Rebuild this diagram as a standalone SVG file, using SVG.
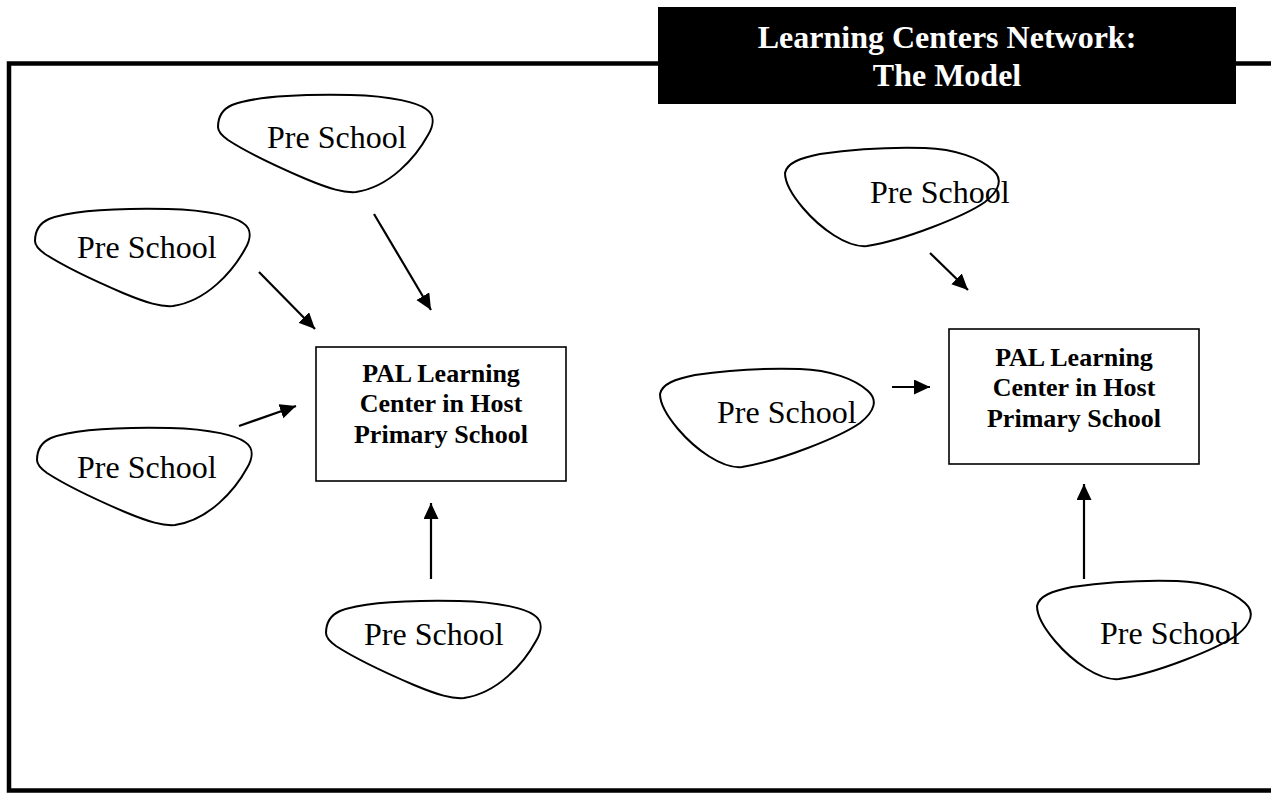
<svg xmlns="http://www.w3.org/2000/svg" width="1271" height="793" viewBox="0 0 1271 793">
<style>
  .frame { fill: none; stroke: #000; stroke-width: 4.5; }
  .blob { fill: none; stroke: #000; stroke-width: 2; }
  .box { fill: #fff; stroke: #000; stroke-width: 1.6; }
  .ps { font-family: "Liberation Serif", "Times New Roman", serif; font-size: 32px; fill: #000; }
  .bt { font-family: "Liberation Serif", "Times New Roman", serif; font-size: 26px; font-weight: bold; fill: #000; text-anchor: middle; }
  .tt { font-family: "Liberation Serif", "Times New Roman", serif; font-size: 32px; font-weight: bold; fill: #fff; text-anchor: middle; }
  .arr { stroke: #000; stroke-width: 2.2; fill: none; marker-end: url(#ah); }
</style>
<defs>
  <marker id="ah" markerUnits="userSpaceOnUse" markerWidth="18" markerHeight="16" refX="16" refY="7.5" orient="auto">
    <path d="M0,0 L16,7.5 L0,15 Z" fill="#000"/>
  </marker>
  <path id="blobL" d="M0,32 C0,22 5,14 14,10 C35,2 80,-1 133,0 C175,1 200,8 208,14 C217,20 216,30 210,40 C198,62 172,92 138,97 C126,98 112,94 88,84 C60,72 30,58 10,45 C3,40 0,36 0,32 Z"/>
  <path id="blobR" d="M0,25 C2,15 15,10 35,6 C70,1 110,-1 140,0 C170,1 195,10 208,22 C218,31 215,42 200,54 C180,68 120,92 82,98 C62,100 35,80 18,60 C7,47 0,35 0,25 Z"/>
</defs>
<rect id="white-bg" x="0" y="0" width="1271" height="793" fill="#fff"/>
<rect id="outer-frame" class="frame" x="9" y="63.5" width="1300" height="727"/>
<g id="title">
  <rect x="658" y="7" width="578" height="97" fill="#000"/>
  <text class="tt" x="947" y="48">Learning Centers Network:</text>
  <text class="tt" x="947" y="86">The Model</text>
</g>
<g id="connectors">
  <line class="arr" x1="374" y1="214" x2="431" y2="310"/>
  <line class="arr" x1="259" y1="272" x2="315" y2="329"/>
  <line class="arr" x1="239" y1="426" x2="296" y2="406"/>
  <line class="arr" x1="431" y1="579" x2="431" y2="503"/>
  <line class="arr" x1="930" y1="253" x2="968" y2="290"/>
  <line class="arr" x1="892" y1="387" x2="930" y2="387"/>
  <line class="arr" x1="1084" y1="579" x2="1084" y2="484"/>
</g>
<g id="left-center">
  <rect class="box" x="316" y="347" width="250" height="134"/>
  <text class="bt" x="441" y="382">PAL Learning</text>
  <text class="bt" x="441" y="412">Center in Host</text>
  <text class="bt" x="441" y="443">Primary School</text>
</g>
<g id="right-center">
  <rect class="box" x="949" y="329" width="250" height="135"/>
  <text class="bt" x="1074" y="366">PAL Learning</text>
  <text class="bt" x="1074" y="396">Center in Host</text>
  <text class="bt" x="1074" y="427">Primary School</text>
</g>
<g id="preschool-l1">
  <use href="#blobL" class="blob" x="218" y="95"/>
  <text class="ps" x="267" y="148">Pre School</text>
</g>
<g id="preschool-l2">
  <use href="#blobL" class="blob" x="35" y="209"/>
  <text class="ps" x="77" y="258">Pre School</text>
</g>
<g id="preschool-l3">
  <use href="#blobL" class="blob" x="37" y="428"/>
  <text class="ps" x="77" y="478">Pre School</text>
</g>
<g id="preschool-l4">
  <use href="#blobL" class="blob" x="326" y="601"/>
  <text class="ps" x="364" y="645">Pre School</text>
</g>
<g id="preschool-r1">
  <use href="#blobR" class="blob" x="785" y="148"/>
  <text class="ps" x="870" y="203">Pre School</text>
</g>
<g id="preschool-r2">
  <use href="#blobR" class="blob" x="660" y="369"/>
  <text class="ps" x="717" y="423">Pre School</text>
</g>
<g id="preschool-r3">
  <use href="#blobR" class="blob" x="1037" y="581"/>
  <text class="ps" x="1100" y="644">Pre School</text>
</g>
</svg>
